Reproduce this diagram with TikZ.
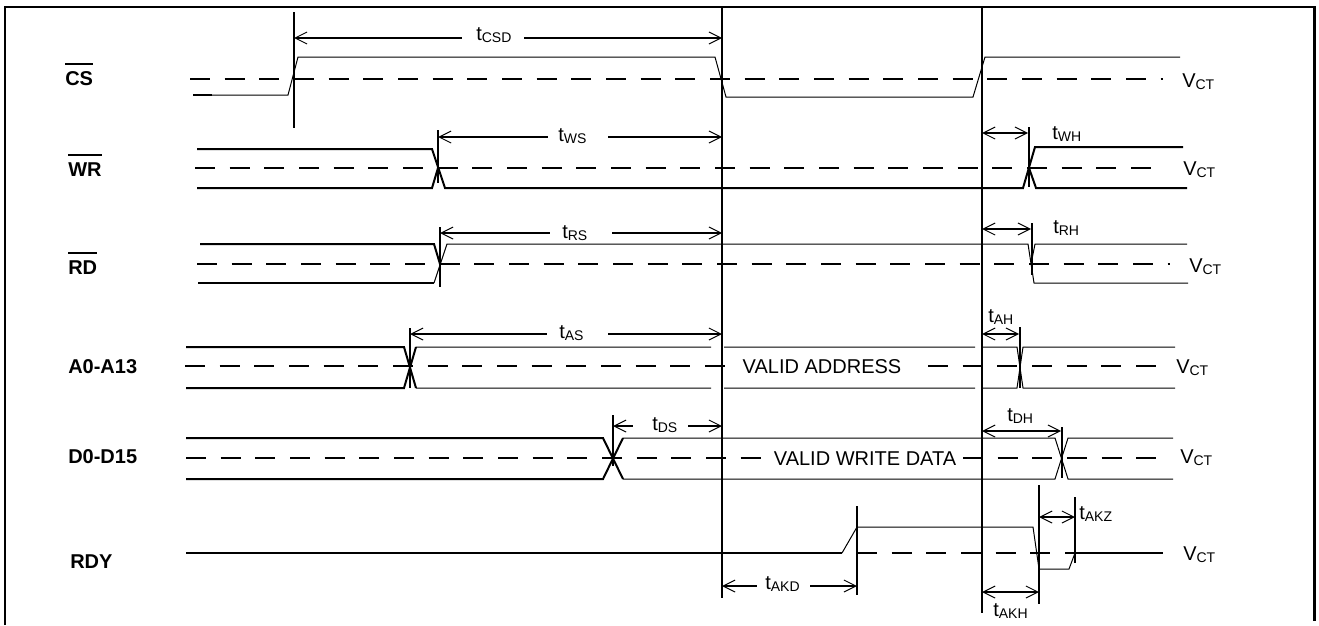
\documentclass[tikz,border=0pt]{standalone}
\usepackage{fontspec}
\setmainfont{Liberation Sans}
\usetikzlibrary{arrows.meta}
\newcommand{\tsb}[2]{#1\raisebox{-1.8pt}{\fontsize{10.5pt}{12pt}\selectfont #2}}
\begin{document}
\begin{tikzpicture}[x=0.75pt,y=-0.75pt,
  thk/.style={line width=1.5pt},
  thn/.style={line width=0.75pt},
  refl/.style={line width=1.5pt},
  vct/.style={line width=1.5pt,dash pattern=on 15pt off 11pt},
  barb/.tip={Straight Barb[length=9pt,width=9pt,line width=0.75pt]},
  dl/.style={line width=1.5pt,barb-},
  dr/.style={line width=1.5pt,-barb},
  db/.style={line width=1.5pt,barb-barb},
  lab/.style={font=\fontsize{15pt}{18pt}\selectfont\bfseries,inner sep=0pt,anchor=base west},
  txt/.style={font=\fontsize{15pt}{18pt}\selectfont,inner sep=0pt,anchor=base west},
  ovl/.style={line width=1.5pt}]
\useasboundingbox (0,0) rectangle (1319,625);
% frame
\draw[line width=1.7pt] (5,625) -- (5,7) -- (1314.5,7) -- (1314.5,621);

% reference verticals
\draw[refl] (722,7) -- (722,598);
\draw[refl] (982,7) -- (982,613);

% ---------- CS ----------
\node[lab] (lcs) at (65,85) {CS};
\draw[ovl] ([yshift=5pt]lcs.north west) -- ([yshift=5pt]lcs.north east);
\draw[vct] (190,79) -- (1163,79);
\draw[thn] (193,95) -- (288,95) -- (298,57) -- (715,57) -- (726,97) -- (973,97) -- (985,57) -- (1180,57);
\draw[thk] (193,95) -- (212,95);
\draw[refl] (294,12) -- (294,128);
\draw[dl] (294,38) -- (462,38);
\draw[dr] (524,38) -- (722,38);
\node[txt] (tcsd) at (476,40) {\tsb{t}{CSD}};
\node[txt] (v1) at (1182,87) {\tsb{V}{CT}};

% ---------- WR ----------
\node[lab] (lwr) at (68,176) {WR};
\draw[ovl] ([yshift=5pt]lwr.north west) -- ([yshift=5pt]lwr.north east);
\draw[vct] (195,168) -- (1165,168);
\draw[thk] (197,149) -- (432,149) -- (445,188) -- (1023,188) -- (1035,147) -- (1183,147);
\draw[thk] (197,188) -- (432,188) -- (438,168);
\draw[thk] (1029,168) -- (1036,188) -- (1187,188);
\draw[refl] (438,130) -- (438,183);
\draw[dl] (438,137) -- (548,137);
\draw[dr] (608,137) -- (722,137);
\node[txt] (tws) at (558,141) {\tsb{t}{WS}};
\draw[refl] (1029,127) -- (1029,187);
\draw[db] (982,133) -- (1028,133);
\node[txt] (twh) at (1052,139) {\tsb{t}{WH}};
\node[txt] (v2) at (1183,175) {\tsb{V}{CT}};

% ---------- RD ----------
\node[lab] (lrd) at (68,274) {RD};
\draw[ovl] ([yshift=5pt]lrd.north west) -- ([yshift=5pt]lrd.north east);
\draw[vct] (197,264) -- (1170,264);
\draw[thk] (200,244) -- (434,244) -- (440,264);
\draw[thk] (198,283) -- (434,283);
\draw[thn] (434,283) -- (447,244) -- (1028,244) -- (1034,283) -- (1188,283);
\draw[thn] (1031,264) -- (1035,244) -- (1187,244);
\draw[refl] (440,227) -- (440,287);
\draw[dl] (440,233) -- (550,233);
\draw[dr] (612,233) -- (722,233);
\node[txt] (trs) at (562,238) {\tsb{t}{RS}};
\draw[refl] (1032,223) -- (1032,275);
\draw[db] (982,229) -- (1031,229);
\node[txt] (trh) at (1053,233) {\tsb{t}{RH}};
\node[txt] (v3) at (1189,272) {\tsb{V}{CT}};

% ---------- A0-A13 ----------
\node[lab] (la) at (68,373) {A0-A13};
\draw[vct] (185,366) -- (730,366);
\draw[vct] (928,366) -- (1157,366);
\draw[thk] (186,347) -- (404,347) -- (416,388);
\draw[thk] (186,388) -- (404,388) -- (416,347);
\draw[thn] (416,347) -- (711,347) (724,347) -- (975,347) (983,347) -- (1017,347) -- (1023,388) -- (1175,388);
\draw[thn] (416,388) -- (711,388) (724,388) -- (975,388) (983,388) -- (1017,388) -- (1023,347) -- (1175,347);
\draw[refl] (410,328) -- (410,388);
\draw[dl] (410,334) -- (547,334);
\draw[dr] (608,334) -- (722,334);
\node[txt] (tas) at (559,338) {\tsb{t}{AS}};
\draw[refl] (1020,327) -- (1020,388);
\draw[db] (982,334) -- (1019,334);
\node[txt] (tah) at (988,322) {\tsb{t}{AH}};
\node[txt, anchor=base] (vaddr) at (822,373) {VALID ADDRESS};
\node[txt] (v4) at (1176,373) {\tsb{V}{CT}};

% ---------- D0-D15 ----------
\node[lab] (ld) at (68,463) {D0-D15};
\draw[vct] (186,458) -- (765,458);
\draw[vct] (963,458) -- (1158,458);
\draw[thk] (186,438) -- (603,438) -- (623,479);
\draw[thk] (186,479) -- (603,479) -- (623,438);
\draw[thn] (623,438) -- (1055,438) -- (1068,479) -- (1173,479);
\draw[thn] (623,479) -- (1055,479) -- (1068,438) -- (1173,438);
\draw[refl] (613,415) -- (613,466);
\draw[dl] (613,426) -- (633,426);
\draw[dr] (688,426) -- (722,426);
\node[txt] (tds) at (652,430) {\tsb{t}{DS}};
\draw[refl] (1062,427) -- (1062,478);
\draw[db] (982,431) -- (1061,431);
\node[txt] (tdh) at (1007,421) {\tsb{t}{DH}};
\node[txt, anchor=base] (vdata) at (865,465) {VALID WRITE DATA};
\node[txt] (v5) at (1180,463) {\tsb{V}{CT}};

% ---------- RDY ----------
\node[lab] (lrdy) at (70,568) {RDY};
\draw[thk] (186,553) -- (842,553);
\draw[thn] (842,553) -- (857,527) -- (1033,527) -- (1039,569) -- (1069,569) -- (1075,553);
\draw[thk] (1075,553) -- (1163,553);
\draw[vct] (857,553) -- (1075,553);
\draw[refl] (857,506) -- (857,595);
\draw[refl] (1039,485) -- (1039,604);
\draw[refl] (1075,497) -- (1075,563);
\draw[dl] (722,586) -- (757,586);
\draw[dr] (810,586) -- (857,586);
\node[txt] (takd) at (765,589) {\tsb{t}{AKD}};
\draw[db] (982,592) -- (1039,592);
\node[txt] (takh) at (993,616) {\tsb{t}{AKH}};
\draw[db] (1039,517) -- (1075,517);
\node[txt] (takz) at (1079,519) {\tsb{t}{AKZ}};
\node[txt] (v6) at (1183,560) {\tsb{V}{CT}};
\end{tikzpicture}
\end{document}
